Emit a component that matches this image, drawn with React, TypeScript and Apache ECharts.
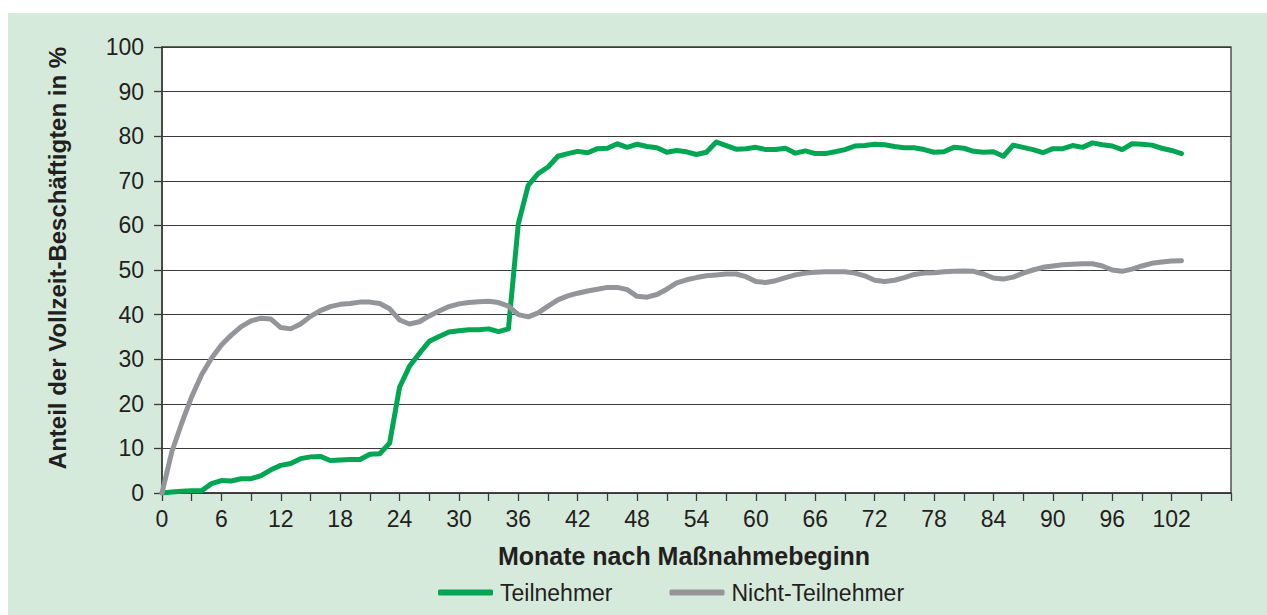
import React, { useEffect, useRef } from "react";
import * as echarts from "echarts";

const months: number[] = Array.from({ length: 104 }, (_, i) => i);

const teilnehmer: number[] = [
  0, 0.2, 0.4, 0.5, 0.5, 2.1, 2.8, 2.7, 3.2, 3.2,
  3.9, 5.2, 6.2, 6.6, 7.7, 8.1, 8.2, 7.3, 7.4, 7.5,
  7.5, 8.7, 8.8, 11.2, 23.7, 28.4, 31.3, 34, 35.1, 36.1,
  36.4, 36.6, 36.6, 36.8, 36.2, 36.8, 60.4, 69, 71.6, 73.1,
  75.5, 76.1, 76.6, 76.3, 77.2, 77.3, 78.3, 77.5, 78.2, 77.7,
  77.4, 76.4, 76.8, 76.5, 75.9, 76.4, 78.7, 77.9, 77.1, 77.2,
  77.5, 77, 77, 77.3, 76.2, 76.7, 76.1, 76.1, 76.5, 77,
  77.8, 77.9, 78.2, 78.1, 77.7, 77.4, 77.4, 77, 76.4, 76.5,
  77.5, 77.3, 76.6, 76.4, 76.5, 75.5, 78, 77.5, 77, 76.3,
  77.2, 77.2, 77.9, 77.5, 78.5, 78.1, 77.8, 77, 78.3, 78.2,
  78, 77.3, 76.8, 76.1,
];

const nichtTeilnehmer: number[] = [
  0, 9.3, 15.7, 21.6, 26.5, 30.2, 33.2, 35.4, 37.3, 38.6,
  39.2, 39, 37.1, 36.8, 37.9, 39.6, 40.9, 41.8, 42.3, 42.5,
  42.8, 42.8, 42.5, 41.3, 38.8, 37.9, 38.4, 39.7, 40.8, 41.8,
  42.4, 42.7, 42.9, 43, 42.7, 41.9, 40, 39.5, 40.4, 41.9,
  43.3, 44.2, 44.8, 45.3, 45.7, 46.1, 46.1, 45.6, 44.1, 43.9,
  44.5, 45.7, 47.1, 47.8, 48.3, 48.7, 48.9, 49.1, 49.1, 48.5,
  47.4, 47.2, 47.6, 48.3, 48.9, 49.3, 49.5, 49.6, 49.6, 49.6,
  49.3, 48.7, 47.7, 47.4, 47.7, 48.3, 49, 49.3, 49.4, 49.6,
  49.7, 49.8, 49.7, 49.1, 48.2, 48, 48.4, 49.3, 50, 50.6,
  50.9, 51.2, 51.3, 51.4, 51.4, 50.9, 50, 49.7, 50.2, 50.9,
  51.5, 51.8, 52, 52.1,
];

const seriesNames = ["Teilnehmer", "Nicht-Teilnehmer"];
const xTitle = "Monate nach Maßnahmebeginn";
const yTitle = "Anteil der Vollzeit-Beschäftigten in %";

const GREEN = "#00a651";
const GRAY = "#939598";
const DARK = "#231f20";
const FONT = "'Liberation Sans', Arial, sans-serif";

export default function App() {
  const ref = useRef<HTMLDivElement>(null);

  useEffect(() => {
    document.body.style.margin = "0";
    if (!ref.current) return;
    const chart = echarts.init(ref.current, null, { renderer: "svg" });
    const pairs = (vals: number[]) => months.map((m, i) => [m, vals[i]]);
    chart.setOption({
      animation: false,
      backgroundColor: "transparent",
      textStyle: { fontFamily: FONT, color: DARK },
      grid: {
        left: 162,
        right: 36,
        top: 47,
        bottom: 122,
        show: true,
        backgroundColor: "#ffffff",
        borderColor: "#3a3a3a",
        borderWidth: 1.3,
      },
      xAxis: {
        type: "value",
        min: 0,
        max: 108,
        interval: 3,
        axisLine: { show: true, lineStyle: { color: "#3a3a3a", width: 1.5 } },
        axisTick: { show: true, length: 8, lineStyle: { color: "#3a3a3a", width: 1.3 } },
        splitLine: { show: false },
        axisLabel: {
          margin: 14,
          fontSize: 23,
          fontFamily: FONT,
          color: DARK,
          formatter: (v: number) => (v % 6 === 0 && v < 108 ? String(v) : ""),
        },
      },
      yAxis: {
        type: "value",
        min: 0,
        max: 100,
        interval: 10,
        axisLine: { show: true, lineStyle: { color: "#3a3a3a", width: 1.5 } },
        axisTick: { show: true, length: 8, lineStyle: { color: "#3a3a3a", width: 1.3 } },
        splitLine: { show: true, lineStyle: { color: "#3a3a3a", width: 1.2 } },
        axisLabel: { margin: 18, fontSize: 23, fontFamily: FONT, color: DARK },
      },
      legend: {
        left: 433,
        top: 576,
        itemWidth: 55,
        itemHeight: 6,
        itemGap: 57,
        icon: "roundRect",
        textStyle: { fontSize: 23, fontFamily: FONT, color: DARK, padding: [0, 0, 0, 2] },
        data: seriesNames,
      },
      graphic: [
        {
          type: "text",
          x: 684,
          y: 556,
          style: {
            text: xTitle,
            font: `bold 25px ${FONT}`,
            fill: DARK,
            align: "center",
            verticalAlign: "middle",
          },
        },
        {
          type: "text",
          x: 57,
          y: 258,
          rotation: Math.PI / 2,
          style: {
            text: yTitle,
            font: `bold 24px ${FONT}`,
            fill: DARK,
            align: "center",
            verticalAlign: "middle",
          },
        },
      ],
      series: [
        {
          name: seriesNames[0],
          type: "line",
          data: pairs(teilnehmer),
          showSymbol: false,
          symbol: "none",
          lineStyle: { color: GREEN, width: 5, join: "round", cap: "round" },
          itemStyle: { color: GREEN },
          z: 3,
        },
        {
          name: seriesNames[1],
          type: "line",
          data: pairs(nichtTeilnehmer),
          showSymbol: false,
          symbol: "none",
          lineStyle: { color: GRAY, width: 5, join: "round", cap: "round" },
          itemStyle: { color: GRAY },
          z: 4,
        },
      ],
    });
    return () => chart.dispose();
  }, []);

  return (
    <div style={{ position: "relative", width: 1267, height: 615, background: "#ffffff", overflow: "hidden" }}>
      <div style={{ position: "absolute", left: 8, top: 13, right: 0, bottom: 0, background: "#d6eadb" }} />
      <div ref={ref} style={{ position: "absolute", left: 0, top: 0, width: 1267, height: 615 }} />
    </div>
  );
}
